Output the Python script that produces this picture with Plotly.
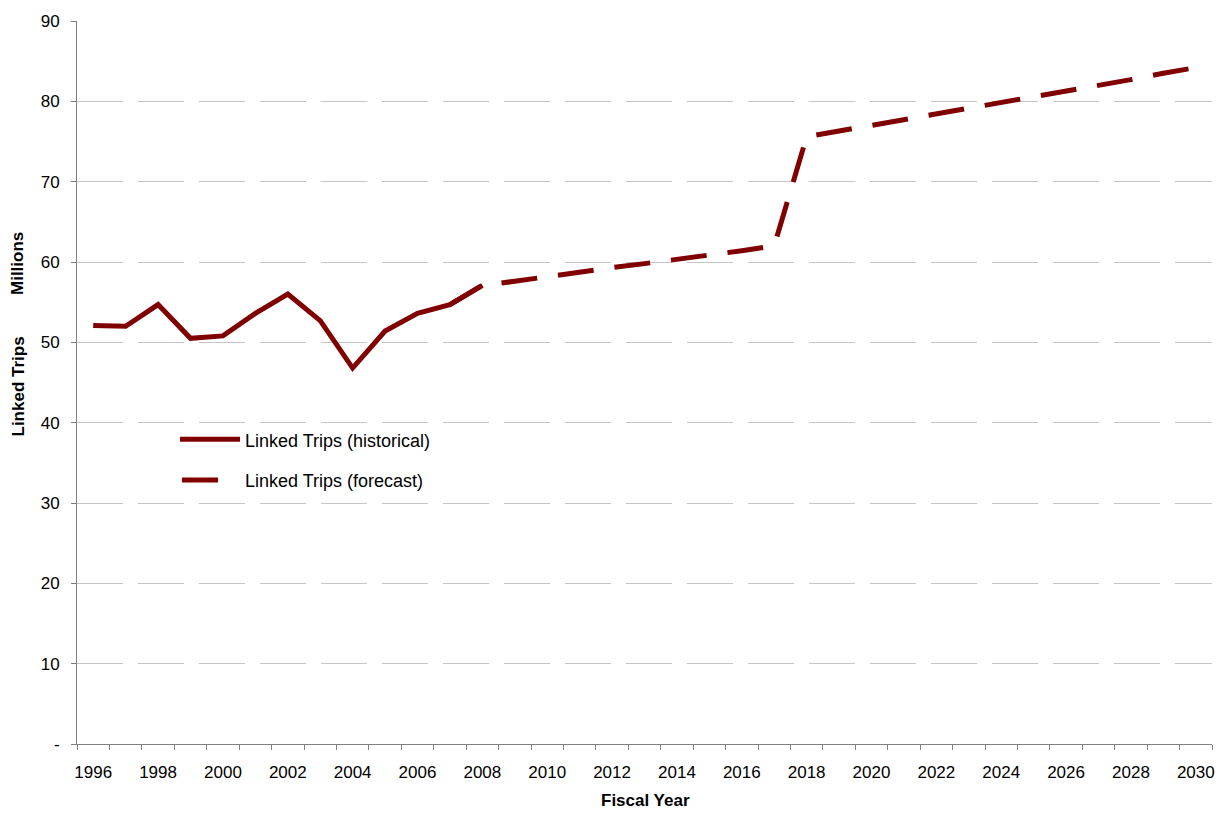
import plotly.graph_objects as go

# Linked trips, millions per fiscal year
hist_years = list(range(1996, 2009))
hist_trips = [52.1, 52.0, 54.7, 50.5, 50.8, 53.6, 56.0, 52.7, 46.8, 51.4, 53.6, 54.7, 57.1]

fcst_years = list(range(2007, 2031))
fcst_trips = [54.7, 57.1, 57.6, 58.2, 58.7, 59.3, 59.8, 60.3, 60.9, 61.4, 62.0,
              75.6, 76.3, 77.0, 77.7, 78.5, 79.2, 79.9, 80.6, 81.3, 82.0, 82.7, 83.5, 84.2]

year_ticks = list(range(1996, 2031, 2))
year_labels = [str(y) for y in year_ticks]
trip_ticks = list(range(0, 91, 10))
trip_labels = ["-"] + [str(v) for v in trip_ticks[1:]]

LINE = "#800000"
AXIS = "#808080"
FONT = "Liberation Sans, Arial, sans-serif"

W, H = 1229, 813
L, R, T, B = 77, 17, 18, 69
pw, ph = W - L - R, H - T - B


def px(x):
    return (x - L) / pw


def py(y):
    return (H - B - y) / ph


fig = go.Figure()
fig.add_trace(go.Scatter(x=fcst_years, y=fcst_trips, mode="lines",
                         name="Linked Trips (forecast)",
                         line=dict(color=LINE, width=5, dash="36px,21px")))
fig.add_trace(go.Scatter(x=hist_years, y=hist_trips, mode="lines",
                         name="Linked Trips (historical)",
                         line=dict(color=LINE, width=5)))

# legend keys drawn inside the plot area
legend_items = [("Linked Trips (historical)", 180, 240, 438, 440),
                ("Linked Trips (forecast)", 182, 218, 479, 480)]
shapes = []
annotations = []
for text, x0, x1, yl, yt in legend_items:
    shapes.append(dict(type="line", xref="paper", yref="paper",
                       x0=px(x0), x1=px(x1), y0=py(yl), y1=py(yl),
                       line=dict(color=LINE, width=5)))
    annotations.append(dict(text=text, xref="paper", yref="paper",
                            x=px(243), y=py(yt), xanchor="left", yanchor="middle",
                            showarrow=False, font=dict(size=18, color="black", family=FONT)))

# axis titles
annotations.append(dict(text="<b>Linked Trips</b>", xref="paper", yref="paper",
                        x=px(18), y=py(385), textangle=-90, showarrow=False,
                        xanchor="center", yanchor="middle",
                        font=dict(size=17, color="black", family=FONT)))
annotations.append(dict(text="<b>Millions</b>", xref="paper", yref="paper",
                        x=px(18), y=py(262), textangle=-90, showarrow=False,
                        xanchor="center", yanchor="middle",
                        font=dict(size=17, color="black", family=FONT)))
annotations.append(dict(text="<b>Fiscal Year</b>", xref="paper", yref="paper",
                        x=px(645), y=py(801), showarrow=False,
                        xanchor="center", yanchor="middle",
                        font=dict(size=17, color="black", family=FONT)))

fig.update_layout(
    width=W, height=H,
    margin=dict(l=L, r=R, t=T, b=B),
    paper_bgcolor="white", plot_bgcolor="white",
    showlegend=False,
    shapes=shapes, annotations=annotations,
    font=dict(family=FONT, size=17, color="black"),
)

fig.update_xaxes(
    range=[1995.5, 2030.5],
    tickmode="array", tickvals=year_ticks, ticktext=year_labels,
    ticks="outside", ticklen=5, tickcolor="rgba(0,0,0,0)",
    minor=dict(tick0=1995.5, dtick=1, ticks="outside", ticklen=5,
               tickcolor=AXIS, tickwidth=1, showgrid=False),
    showgrid=False, zeroline=False,
    showline=True, linecolor=AXIS, linewidth=1,
    ticklabelstandoff=8,
    tickfont=dict(size=17, color="black", family=FONT),
)

fig.update_yaxes(
    range=[0, 90],
    tickmode="array", tickvals=trip_ticks, ticktext=trip_labels,
    ticks="outside", ticklen=5, tickcolor=AXIS,
    showgrid=True, gridcolor="#c4c4c4", gridwidth=1, griddash="46px,15px",
    zeroline=False,
    showline=True, linecolor=AXIS, linewidth=1,
    ticklabelstandoff=8,
    tickfont=dict(size=17, color="black", family=FONT),
)

fig.write_html("out.html")
